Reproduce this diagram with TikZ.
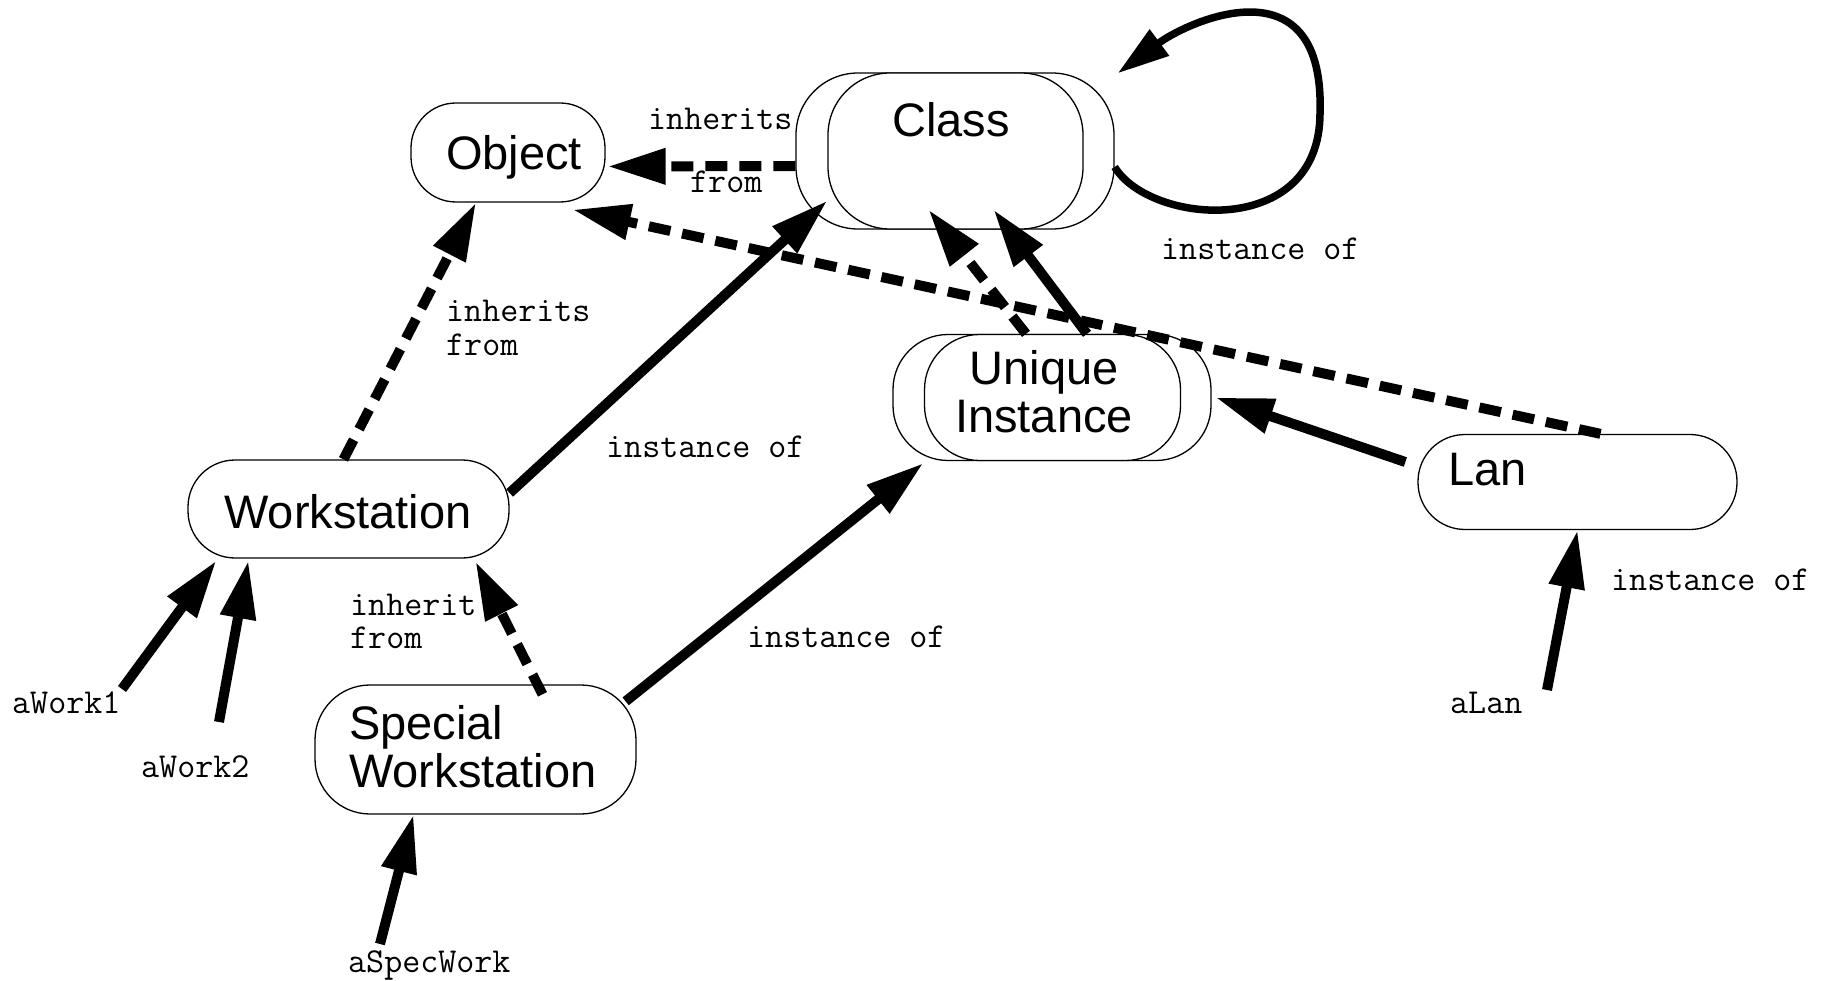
\documentclass[tikz,border=0pt]{standalone}
\usepackage{fontspec}
\setmainfont{Liberation Sans}
\usetikzlibrary{arrows.meta}

\begin{document}
\begin{tikzpicture}[x=1pt,y=-1pt,
  box/.style={draw=black, line width=1.3pt, fill=white, rounded corners=#1, inner sep=0pt},
  boxtext/.style={font=\fontsize{47}{48}\selectfont, inner sep=0pt},
  lbl/.style={font=\ttfamily\fontsize{35}{31}\selectfont, inner sep=0pt, anchor=base west, align=left},
  conn/.style={line width=10pt, -{Triangle[length=58pt,width=34pt]}},
  inh/.style={conn, dash pattern=on 22pt off 12pt},
  selfloop/.style={line width=7.5pt, -{Triangle[length=52pt,width=31pt]}},
]
\fill[white] (0,0) rectangle (1842,981);
\useasboundingbox (0,0) rectangle (1842,981);

% class boxes
\node[box=45pt, minimum width=194pt, minimum height=99pt] (object) at (508,152.5) {};
\node[box=62pt, minimum width=318pt, minimum height=156pt] (classback) at (955,151) {};
\node[box=62pt, minimum width=255pt, minimum height=156pt] (class) at (955.5,151) {};
\node[box=55pt, minimum width=318pt, minimum height=126pt] (uiback) at (1052,397.5) {};
\node[box=55pt, minimum width=256pt, minimum height=126pt] (ui) at (1052.5,397.5) {};
\node[box=47pt, minimum width=321pt, minimum height=98pt] (ws) at (348.5,509) {};
\node[box=55pt, minimum width=321pt, minimum height=129pt] (sw) at (475.5,749.5) {};
\node[box=47pt, minimum width=319pt, minimum height=95pt] (lan) at (1577.5,482) {};

% box titles
\node[boxtext, anchor=base] (objecttitle) at (514,170) {Object};
\node[boxtext, anchor=base] (classtitle) at (951,137) {Class};
\node[boxtext, align=center] (uititle) at (1044,392) {Unique\\Instance};
\node[boxtext, anchor=base] (wstitle) at (348,528) {Workstation};
\node[boxtext, align=left, anchor=west] (swtitle) at (349,747) {Special\\Workstation};
\node[boxtext, anchor=base west] (lantitle) at (1448,485) {Lan};

% relation labels, one node per printed line
\node[lbl] (inhtop) at (648,130) {inherits};
\node[lbl] (fromtop) at (690,193) {from};
\node[lbl] (instloop) at (1161,260) {instance of};
\node[lbl] (inhws) at (446,322) {inherits};
\node[lbl] (fromws) at (446,356) {from};
\node[lbl] (instws) at (606,457) {instance of};
\node[lbl] (inhsw) at (350,615) {inherit};
\node[lbl] (fromsw) at (350,648) {from};
\node[lbl] (instsw) at (747,647) {instance of};
\node[lbl] (instlan) at (1611,590) {instance of};

% instance names
\node[lbl] (aw1) at (12,713) {aWork1};
\node[lbl] (aw2) at (141,777) {aWork2};
\node[lbl] (asw) at (348,972) {aSpecWork};
\node[lbl] (alan) at (1450,713) {aLan};

\coordinate (w1start) at (122,689);
\coordinate (w2start) at (219,722);
\coordinate (swstart) at (380,944);
\coordinate (lanstart) at (1547,690);

% inheritance (dashed) and instance-of (solid) connectors
\draw[inh] ([yshift=-15pt]classback.west) -- ([xshift=2pt,yshift=-14pt]object.east);
\draw[inh] ([xshift=-5pt]ws.north) -- ([xshift=-32pt]object.south);
\draw[conn] ([yshift=16pt]ws.east) -- ([yshift=29pt]class.south west);
\draw[inh] ([xshift=23pt]lan.north) -- ([xshift=-33pt,yshift=-7pt]object.south east);
\draw[inh] ([xshift=-26pt]uiback.north) -- ([xshift=-27pt,yshift=20pt]class.south);
\draw[conn] ([xshift=35pt]uiback.north) -- ([xshift=38pt,yshift=20pt]class.south);
\draw[conn] ([xshift=-12pt,yshift=20pt]lan.west) -- ([xshift=4pt]uiback.east);
\draw[inh] ([xshift=67pt,yshift=-10pt]sw.north) -- ([xshift=127pt,yshift=-3pt]ws.south);
\draw[conn] ([xshift=-11pt,yshift=-17pt]sw.north east) -- ([xshift=31pt,yshift=-2pt]uiback.south west);
\draw[conn] (w1start) -- ([xshift=29pt,yshift=-2pt]ws.south west);
\draw[conn] (w2start) -- ([xshift=61pt,yshift=-2pt]ws.south west);
\draw[conn] (swstart) -- ([xshift=-62pt]sw.south);
\draw[conn] (lanstart) -- (lan.south);

% Class is an instance of itself
\draw[selfloop] ([yshift=-16pt]classback.east) .. controls (1150,225) and (1320,240) .. (1320,113)
  .. controls (1325,-40) and (1190,20) .. ([xshift=3pt,yshift=-1pt]classback.north east);
\end{tikzpicture}
\end{document}
